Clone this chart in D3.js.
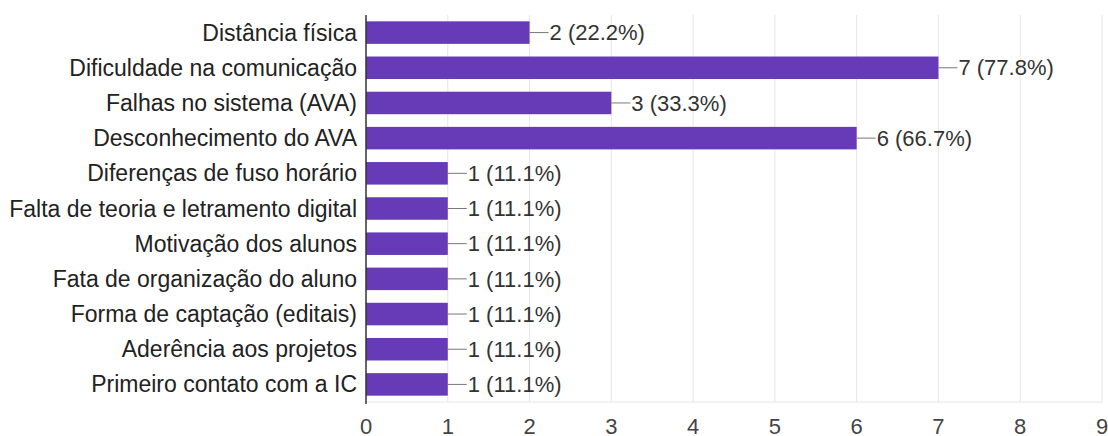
<!DOCTYPE html>
<html>
<head>
<meta charset="utf-8">
<script src="https://d3js.org/d3.v7.min.js"></script>
<style>
  body { margin: 0; background: #fff; }
  text { font-family: "Liberation Sans", Arial, sans-serif; }
</style>
</head>
<body>
<script>
var categories = [
  "Distância física",
  "Dificuldade na comunicação",
  "Falhas no sistema (AVA)",
  "Desconhecimento do AVA",
  "Diferenças de fuso horário",
  "Falta de teoria e letramento digital",
  "Motivação dos alunos",
  "Fata de organização do aluno",
  "Forma de captação (editais)",
  "Aderência aos projetos",
  "Primeiro contato com a IC"
];
var counts = [2, 7, 3, 6, 1, 1, 1, 1, 1, 1, 1];
var percents = ["22.2%", "77.8%", "33.3%", "66.7%", "11.1%", "11.1%", "11.1%", "11.1%", "11.1%", "11.1%", "11.1%"];
var xTicks = [0, 1, 2, 3, 4, 5, 6, 7, 8, 9];

var width = 1108, height = 436;
var plotLeft = 366, plotRight = 1102, plotTop = 15, plotBottom = 402;

var svg = d3.select("body").append("svg")
    .attr("width", width)
    .attr("height", height);

var x = d3.scaleLinear().domain([0, 9]).range([plotLeft, plotRight]);
var y = d3.scaleBand().domain(categories).range([plotTop, plotBottom])
    .paddingInner(0.36).paddingOuter(0.18);

var data = categories.map(function(c, i) {
  return { cat: c, n: counts[i], pct: percents[i] };
});

// grid
svg.append("g").selectAll("line")
  .data(xTicks.slice(1))
  .enter().append("line")
  .attr("x1", function(d) { return x(d); })
  .attr("x2", function(d) { return x(d); })
  .attr("y1", plotTop).attr("y2", plotBottom)
  .attr("stroke", "#e6e6e6").attr("stroke-width", 1);

svg.append("line")
  .attr("x1", plotLeft).attr("x2", plotRight)
  .attr("y1", plotBottom).attr("y2", plotBottom)
  .attr("stroke", "#e6e6e6");

// bars
svg.append("g").selectAll("rect")
  .data(data)
  .enter().append("rect")
  .attr("x", x(0))
  .attr("y", function(d) { return y(d.cat); })
  .attr("width", function(d) { return x(d.n) - x(0); })
  .attr("height", y.bandwidth())
  .attr("fill", "#673ab7");

// leader lines + labels
svg.append("g").selectAll("line")
  .data(data)
  .enter().append("line")
  .attr("x1", function(d) { return x(d.n); })
  .attr("x2", function(d) { return x(d.n) + 19; })
  .attr("y1", function(d) { return y(d.cat) + y.bandwidth() / 2; })
  .attr("y2", function(d) { return y(d.cat) + y.bandwidth() / 2; })
  .attr("stroke", "#777").attr("stroke-width", 1);

svg.append("g").selectAll("text")
  .data(data)
  .enter().append("text")
  .attr("x", function(d) { return x(d.n) + 20; })
  .attr("y", function(d) { return y(d.cat) + y.bandwidth() / 2; })
  .attr("dy", "0.35em")
  .attr("font-size", 22)
  .attr("fill", "#333")
  .text(function(d) { return d.n + " (" + d.pct + ")"; });

// category labels
svg.append("g").selectAll("text")
  .data(data)
  .enter().append("text")
  .attr("x", plotLeft - 9)
  .attr("y", function(d) { return y(d.cat) + y.bandwidth() / 2; })
  .attr("dy", "0.35em")
  .attr("text-anchor", "end")
  .attr("font-size", 23)
  .attr("fill", "#222")
  .text(function(d) { return d.cat; });

// y axis line
svg.append("line")
  .attr("x1", plotLeft).attr("x2", plotLeft)
  .attr("y1", plotTop).attr("y2", plotBottom + 2)
  .attr("stroke", "#333").attr("stroke-width", 1.5);

// x tick labels
svg.append("g").selectAll("text")
  .data(xTicks)
  .enter().append("text")
  .attr("x", function(d) { return x(d); })
  .attr("y", 434)
  .attr("text-anchor", "middle")
  .attr("font-size", 22)
  .attr("fill", "#444")
  .text(function(d) { return d; });
</script>
</body>
</html>
